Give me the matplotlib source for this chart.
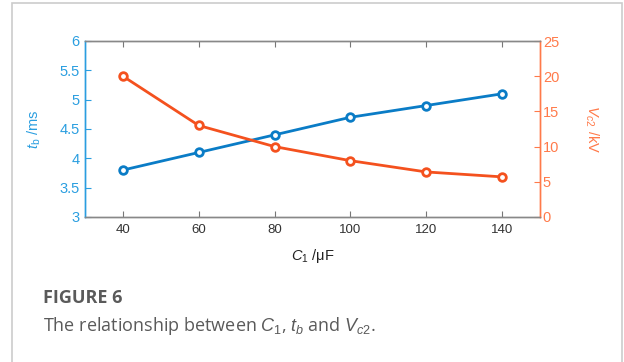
import matplotlib
matplotlib.use("Agg")
import matplotlib.pyplot as plt
from matplotlib.patches import Rectangle

# Data
c1 = [40, 60, 80, 100, 120, 140]          # C1 (uF)
tb = [3.8, 4.1, 4.4, 4.7, 4.9, 5.1]        # t_b (ms)
vc2 = [20.0, 13.0, 10.0, 8.0, 6.4, 5.7]    # V_c2 (kV)

x_ticks = [40, 60, 80, 100, 120, 140]
left_ticks = [3, 3.5, 4, 4.5, 5, 5.5, 6]
right_ticks = [0, 5, 10, 15, 20, 25]

# Colors
BLUE = "#0A7CC6"
BLUE_AX = "#2A9EE0"
ORANGE = "#F4511E"
ORANGE_AX = "#FF7A4A"

plt.rcParams['font.family'] = ['Liberation Sans', 'DejaVu Sans']
plt.rcParams['mathtext.fontset'] = 'custom'
plt.rcParams['mathtext.rm'] = 'Liberation Sans'
plt.rcParams['mathtext.it'] = 'Liberation Sans:italic'

fig = plt.figure(figsize=(6.24, 3.62), dpi=100)

# light page frame
fig.patches.append(Rectangle((12 / 624, -0.1), (622 - 12) / 624, 1.1 - 3 / 362,
                             transform=fig.transFigure, fill=False,
                             edgecolor="#cccccc", linewidth=1.2))

ax = fig.add_axes([85 / 624, 1 - 217 / 362, (540 - 85) / 624, (217 - 41) / 362])
ax2 = ax.twinx()

ax.plot(c1, tb, color=BLUE, lw=2.0, marker="o", ms=5.5, mfc="white",
        mec=BLUE, mew=2.0, zorder=3)
ax2.plot(c1, vc2, color=ORANGE, lw=2.0, marker="o", ms=5.5, mfc="white",
         mec=ORANGE, mew=2.0, zorder=3)

ax.set_xlim(30, 150)
ax.set_ylim(3, 6)
ax2.set_ylim(0, 25)
ax.set_xticks(x_ticks)
ax.set_yticks(left_ticks)
ax.set_yticklabels([f"{v:g}" for v in left_ticks])
ax2.set_yticks(right_ticks)

ax.tick_params(axis="x", direction="in", top=True, length=4, colors="#777777",
               labelcolor="#333333", labelsize=9.5, pad=5)
ax.tick_params(axis="y", direction="in", length=4, colors=BLUE_AX,
               labelcolor=BLUE_AX, labelsize=10.5, pad=4)
ax2.tick_params(axis="y", direction="in", length=4, colors=ORANGE_AX,
                labelcolor=ORANGE_AX, labelsize=10.5, pad=2)

for a in (ax, ax2):
    a.spines["top"].set_color("#888888")
    a.spines["bottom"].set_color("#888888")
    a.spines["left"].set_color(BLUE_AX)
    a.spines["right"].set_color(ORANGE_AX)
    for s in a.spines.values():
        s.set_linewidth(1.0)

ax.set_xlabel(r"$C_1$ /μF", fontsize=10.5, color="#222222", labelpad=8)
ax.set_ylabel(r"$t_\mathrm{b}$ /ms", fontsize=10.5, color=BLUE_AX, labelpad=12)
ax2.set_ylabel(r"$V_{c2}$ /kV", fontsize=10.5, color=ORANGE_AX, rotation=270,
               labelpad=30)

# caption
fig.text(43 / 624, 1 - 298 / 362, "FIGURE 6", fontsize=13, fontweight="bold",
         color="#5a5a5a", family=["Open Sans", "DejaVu Sans"], va="center")
fig.text(43 / 624, 1 - 326 / 362,
         r"The relationship between $\mathit{C_1}$, $\mathit{t_b}$ and $\mathit{V_{c2}}$.",
         fontsize=13, color="#5a5a5a", family=["Open Sans", "DejaVu Sans"],
         va="center")

fig.savefig("out.png", dpi=100)
